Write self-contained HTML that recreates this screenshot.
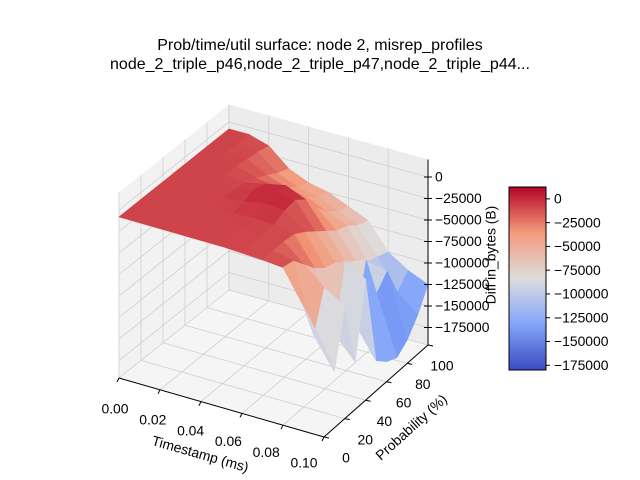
<!DOCTYPE html>
<html><head><meta charset="utf-8"><style>
body{margin:0;background:#fff}
svg{display:block;font-family:"Liberation Sans","DejaVu Sans",sans-serif}
</style></head><body>
<svg id="c" width="640" height="480" viewBox="0 0 640 480">
<text x="320" y="50" font-size="16" text-anchor="middle">Prob/time/util surface: node 2, misrep_profiles</text>
<text x="320" y="69" font-size="16" text-anchor="middle">node_2_triple_p46,node_2_triple_p47,node_2_triple_p44...</text>
<g id="panes"></g><g id="grid"></g><g id="surf"></g><g id="axes"></g><g id="cbar"></g>
</svg>
<script>
const timeTicks=[0,0.02,0.04,0.06,0.08,0.10];
const timeTickLabels=["0.00","0.02","0.04","0.06","0.08","0.10"];
const probTicks=[0,20,40,60,80,100];
const zTicks=[0,-25000,-50000,-75000,-100000,-125000,-150000,-175000];
const times=[0,0.01,0.02,0.03,0.04,0.05,0.06,0.07,0.08,0.09,0.10];
const probs=[0,10,20,30,40,50,60,70,80,90,100];
// z values (thousands of bytes), one row per timestamp
const zRows=[
[-8,-8,-8,-8,-8,-8,-8,-8,-8,-8,-8],
[-8,-8,-8,-8,-8,-8,-8,-8,-8,-8,-8],
[-8,-8,-8,-8,-8,-8,-8,-8,-10,-12,-15],
[-8,-8,-8,-8,-8,-8,-10,-15,-22,-30,-35],
[-8,-8,-8,-8,-4,0,-5,-18,-30,-40,-45],
[-8,-8,-8,-6,0,3,0,-20,-35,-45,-50],
[-9,-9,-9,-8,-2,0,-10,-30,-45,-55,-60],
[-10,-10,-10,-12,-20,-30,-40,-50,-55,-65,-70],
[-12,-15,-30,-45,-55,-60,-70,-80,-90,-95,-100],
[-50,-95,-50,-115,-40,-125,-60,-110,-95,-130,-115],
[-90,-130,-65,-140,-55,-160,-172,-178,-168,-150,-125]];
const cmin=-180000,cmax=12500;
const NS='http://www.w3.org/2000/svg';
function mk(par,tag,at){const e=document.createElementNS(NS,tag);for(const k in at)e.setAttribute(k,at[k]);document.getElementById(par).appendChild(e);return e;}
// axis functions
function uOf(t){return t/0.10;}
function vOf(p){return p/100;}
function wOf(z){return 0.1+(z+175000)/175000*0.86;}
function P(u,v,w){return [119+u*(205-6*v)+v*110, 378+u*(59-4*v)-v*88-w*175];}
function pt(a){return a[0].toFixed(1)+','+a[1].toFixed(1);}
function cw(x){x=Math.max(0,Math.min(1,x));const s=[[0,58,76,193],[0.25,130,165,251],[0.5,221,220,221],[0.75,244,154,123],[1,180,4,38]];
 for(let i=1;i<s.length;i++){if(x<=s[i][0]){const f=(x-s[i-1][0])/(s[i][0]-s[i-1][0]);return 'rgb('+[1,2,3].map(j=>Math.round(s[i-1][j]+f*(s[i][j]-s[i-1][j]))).join(',')+')';}}return 'rgb(180,4,38)';}
const W0=0,W1=1.06;
let e;
e=mk('panes','polygon',{points:[P(0,0,W0),P(0,1,W0),P(0,1,W1),P(0,0,W1)].map(pt).join(' '),fill:'#f2f2f2'});

e=mk('panes','polygon',{points:[P(0,1,W0),P(1,1,W0),P(1,1,W1),P(0,1,W1)].map(pt).join(' '),fill:'#ececec'});

e=mk('panes','polygon',{points:[P(0,0,W0),P(1,0,W0),P(1,1,W0),P(0,1,W0)].map(pt).join(' '),fill:'#f5f5f5'});

function gl(a,b){const l=mk('grid','line',{x1:a[0],y1:a[1],x2:b[0],y2:b[1],stroke:'#cfcfcf','stroke-width':0.8});
}
timeTicks.forEach(t=>{const u=uOf(t);gl(P(u,0,W0),P(u,1,W0));gl(P(u,1,W0),P(u,1,W1));});
probTicks.forEach(p=>{const v=vOf(p);gl(P(0,v,W0),P(1,v,W0));gl(P(0,v,W0),P(0,v,W1));});
zTicks.forEach(z=>{const w=wOf(z);gl(P(0,0,w),P(0,1,w));gl(P(0,1,w),P(1,1,w));});
const quads=[];
for(let i=0;i<times.length-1;i++)for(let j=0;j<probs.length-1;j++){
 const c=[[i,j],[i+1,j],[i+1,j+1],[i,j+1]];
 const pts=c.map(([a,b])=>P(uOf(times[a]),vOf(probs[b]),wOf(zRows[a][b]*1000)));
 const zm=c.reduce((s,[a,b])=>s+zRows[a][b]*1000,0)/4;
 const depth=(vOf(probs[j])+vOf(probs[j+1]))/2-(uOf(times[i])+uOf(times[i+1]))/2;
 quads.push({pts,zm,depth});}
quads.sort((a,b)=>b.depth-a.depth);
quads.forEach(q=>{const col=cw((q.zm-cmin)/(cmax-cmin));
 const p=mk('surf','polygon',{points:q.pts.map(pt).join(' '),fill:col,stroke:col,'stroke-width':0.6});
 });
function al(a,b,n){const l=mk('axes','line',{x1:a[0],y1:a[1],x2:b[0],y2:b[1],stroke:'#000','stroke-width':1});
}
al(P(0,0,W0),P(1,0,W0),'x-axis-line');
al(P(1,0,W0),P(1,1,W0),'y-axis-line');
al(P(1,1,W0),P(1,1,W1),'z-axis-line');
function tx(x,y,s,n,anch,rot){const t=mk('axes','text',{x:x,y:y,'font-size':13.9,'text-anchor':anch||'middle','dominant-baseline':'middle'});
if(rot)t.setAttribute('transform','rotate('+rot+' '+x+' '+y+')');t.textContent=s;
return t;}
timeTicks.forEach((t,k)=>{const u=uOf(t),a=P(u,0,W0);al(a,[a[0]-2,a[1]+4],'x-tick');
 tx(a[0]-4-16*u,a[1]+32-5*u,timeTickLabels[k],'x-tick-label');});
probTicks.forEach(p=>{const v=vOf(p),a=P(1,v,W0);al(a,[a[0]+5,a[1]+1],'y-tick');
 tx(a[0]+22-8*v,a[1]+22,String(p),'y-tick-label');});
zTicks.forEach(z=>{const a=P(1,1,wOf(z));al([a[0]-4,a[1]],[a[0]+4,a[1]],'z-tick');
 tx(a[0]+7,a[1]+1,z===0?'0':'\u2212'+(-z),'z-tick-label','start');});
tx(200,455,'Timestamp (ms)','x-axis-title','middle',16);
tx(412,428,'Probability (%)','y-axis-title','middle',-42);
tx(492,255,'Diff in_bytes (B)','z-axis-title','middle',-90);
const defs=mk('cbar','defs',{});
const lg=document.createElementNS(NS,'linearGradient');lg.setAttribute('id','cg');lg.setAttribute('x1','0');lg.setAttribute('y1','1');lg.setAttribute('x2','0');lg.setAttribute('y2','0');
for(let k=0;k<=20;k++){const s=document.createElementNS(NS,'stop');s.setAttribute('offset',k/20);s.setAttribute('stop-color',cw(k/20));lg.appendChild(s);}
defs.appendChild(lg);
const cy=z=>370-(z-cmin)/(cmax-cmin)*183;
e=mk('cbar','rect',{x:509,y:187,width:37,height:183,fill:'url(#cg)',stroke:'#000','stroke-width':1});

zTicks.forEach(z=>{const y=cy(z);const l=mk('cbar','line',{x1:546,y1:y,x2:550,y2:y,stroke:'#000'});
 
 const t=mk('cbar','text',{x:554,y:y+1,'font-size':13.9,'dominant-baseline':'middle'});t.textContent=z===0?'0':'\u2212'+(-z);
 });
</script>
</body></html>
